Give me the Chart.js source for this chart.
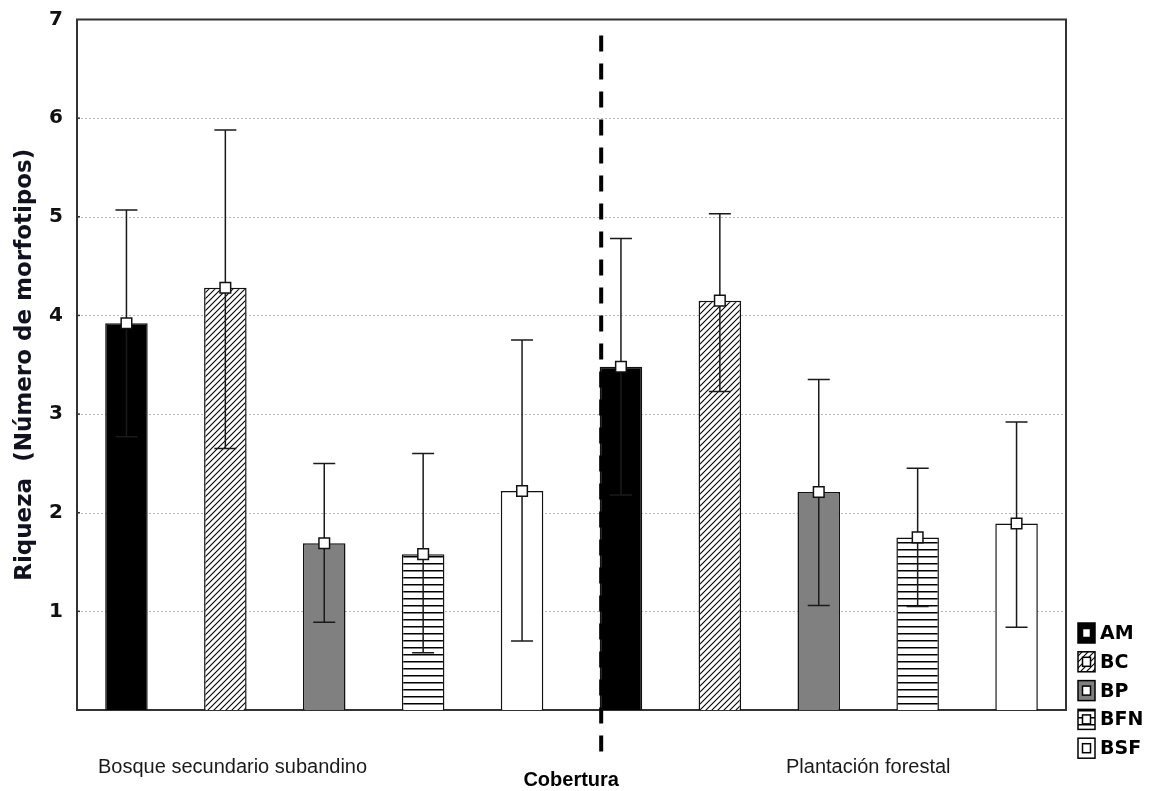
<!DOCTYPE html>
<html lang="es">
  <head>
    <meta charset="UTF-8" />
    <title>Riqueza por cobertura</title>
    <script src="https://cdn.jsdelivr.net/npm/chart.js"></script>
    <style>
      body {
        margin: 0;
        background: #fff;
      }
      .chart-box {
        width: 1157px;
        height: 791px;
      }
    </style>
  </head>
  <body>
    <div class="chart-box">
      <canvas id="riquezaChart"></canvas>
    </div>

    <script>
      // datos
      const categories = ["AM", "BC", "BP", "BFN", "BSF"];
      const groupNames = ["Bosque secundario subandino", "Plantación forestal"];
      const bosqueMean = [3.92, 4.28, 1.69, 1.58, 2.22];
      const bosqueLow = [2.77, 2.65, 0.89, 0.58, 0.7];
      const bosqueHigh = [5.07, 5.88, 2.5, 2.6, 3.75];
      const plantMean = [3.48, 4.15, 2.21, 1.75, 1.89];
      const plantLow = [2.18, 3.23, 1.06, 1.05, 0.84];
      const plantHigh = [4.78, 5.03, 3.35, 2.45, 2.92];
      const yTicks = [0, 1, 2, 3, 4, 5, 6, 7];

      const labels = [...categories, ...categories];
      const means = [...bosqueMean, ...plantMean];
      const lows = [...bosqueLow, ...plantLow];
      const highs = [...bosqueHigh, ...plantHigh];

      function diagPattern() {
        const c = document.createElement("canvas");
        c.width = 6;
        c.height = 6;
        const g = c.getContext("2d");
        g.fillStyle = "#fff";
        g.fillRect(0, 0, 6, 6);
        g.strokeStyle = "#000";
        g.lineWidth = 1.1;
        g.beginPath();
        g.moveTo(0, 6);
        g.lineTo(6, 0);
        g.moveTo(-1, 1);
        g.lineTo(1, -1);
        g.moveTo(5, 7);
        g.lineTo(7, 5);
        g.stroke();
        return g.createPattern(c, "repeat");
      }

      function stripePattern() {
        const c = document.createElement("canvas");
        c.width = 6;
        c.height = 7;
        const g = c.getContext("2d");
        g.fillStyle = "#fff";
        g.fillRect(0, 0, 6, 7);
        g.fillStyle = "#000";
        g.fillRect(0, 3, 6, 1.5);
        return g.createPattern(c, "repeat");
      }

      const fills = ["#000000", diagPattern(), "#808080", stripePattern(), "#ffffff"];
      const barFills = [...fills, ...fills];

      // rejilla punteada y marco
      const framePlugin = {
        id: "frame",
        beforeDatasetsDraw(chart) {
          const { ctx, chartArea: a, scales } = chart;
          ctx.save();
          ctx.strokeStyle = "#b5b5b5";
          ctx.lineWidth = 1;
          ctx.setLineDash([2, 2]);
          yTicks.forEach((v) => {
            if (v === 0 || v === 7) return;
            const y = Math.round(scales.y.getPixelForValue(v)) + 0.5;
            ctx.beginPath();
            ctx.moveTo(a.left, y);
            ctx.lineTo(a.right, y);
            ctx.stroke();
          });
          ctx.setLineDash([]);
          ctx.strokeStyle = "#333";
          ctx.lineWidth = 2;
          ctx.strokeRect(a.left, a.top, a.right - a.left, a.bottom - a.top);
          ctx.lineWidth = 1.5;
          yTicks.forEach((v) => {
            if (v === 0 || v === 7) return;
            const y = scales.y.getPixelForValue(v);
            ctx.beginPath();
            ctx.moveTo(a.left, y);
            ctx.lineTo(a.left + 3, y);
            ctx.stroke();
          });
          ctx.restore();
        },
      };

      // barras de error, antes de los marcadores
      const errorPlugin = {
        id: "errorBars",
        afterDatasetDraw(chart, args) {
          if (args.index !== 0) return;
          const { ctx, scales } = chart;
          ctx.save();
          ctx.strokeStyle = "#1a1a1a";
          ctx.lineWidth = 1.5;
          means.forEach((m, i) => {
            const x = scales.x.getPixelForValue(i);
            const yl = scales.y.getPixelForValue(lows[i]);
            const yh = scales.y.getPixelForValue(highs[i]);
            ctx.beginPath();
            ctx.moveTo(x, yl);
            ctx.lineTo(x, yh);
            ctx.moveTo(x - 11, yh);
            ctx.lineTo(x + 11, yh);
            ctx.moveTo(x - 11, yl);
            ctx.lineTo(x + 11, yl);
            ctx.stroke();
          });
          ctx.restore();
        },
      };

      const textPlugin = {
        id: "texts",
        afterDraw(chart) {
          const { ctx, chartArea: a, scales } = chart;
          ctx.save();

          // línea divisoria
          const bar = chart.getDatasetMeta(0).data[5];
          const xd = bar.x - bar.width / 2 + 1.5;
          ctx.strokeStyle = "#000";
          ctx.lineWidth = 4;
          ctx.setLineDash([16, 12]);
          ctx.beginPath();
          ctx.moveTo(xd, a.top + 16);
          ctx.lineTo(xd, a.bottom + 44);
          ctx.stroke();
          ctx.setLineDash([]);

          // título eje y
          ctx.fillStyle = "#111122";
          ctx.font = "bold 23px 'DejaVu Sans'";
          ctx.textAlign = "center";
          ctx.textBaseline = "middle";
          ctx.translate(25, (a.top + a.bottom) / 2);
          ctx.rotate(-Math.PI / 2);
          ctx.fillText("Riqueza  (Número de morfotipos)", 0, 0);
          ctx.setTransform(1, 0, 0, 1, 0, 0);

          // nombres de grupo
          ctx.fillStyle = "#1a1a1a";
          ctx.font = "20px 'Liberation Sans', Arial";
          ctx.textAlign = "left";
          ctx.fillText(groupNames[0], a.left + 21, a.bottom + 57);
          ctx.fillText(groupNames[1], a.left + 709, a.bottom + 57);

          ctx.font = "bold 20px 'Liberation Sans Narrow', 'Liberation Sans', Arial";
          ctx.textAlign = "center";
          ctx.fillStyle = "#000";
          ctx.fillText("Cobertura", xd - 30, a.bottom + 70);

          // leyenda
          ctx.textAlign = "left";
          ctx.font = "bold 19px 'DejaVu Sans'";
          categories.forEach((c, i) => {
            const yc = a.bottom - 77 + i * 28.8;
            ctx.fillStyle = fills[i];
            ctx.fillRect(1078, yc - 10, 17, 20);
            ctx.strokeStyle = "#000";
            ctx.lineWidth = 1.5;
            ctx.strokeRect(1078, yc - 10, 17, 20);
            ctx.fillStyle = "#fff";
            ctx.fillRect(1082.5, yc - 4.5, 8, 9);
            ctx.strokeRect(1082.5, yc - 4.5, 8, 9);
            ctx.fillStyle = "#000";
            ctx.fillText(c, 1100, yc + 1);
          });
          ctx.restore();
        },
      };

      new Chart(document.getElementById("riquezaChart"), {
        data: {
          labels: labels,
          datasets: [
            {
              type: "bar",
              data: means,
              backgroundColor: barFills,
              borderColor: "#111",
              borderWidth: 1.5,
              borderSkipped: "bottom",
              barPercentage: 0.43,
              categoryPercentage: 1,
              order: 2,
            },
            {
              type: "line",
              data: means,
              showLine: false,
              pointStyle: "rect",
              pointRadius: 7.5,
              pointBackgroundColor: "#fff",
              pointBorderColor: "#111",
              pointBorderWidth: 1.5,
              order: 1,
            },
          ],
        },
        options: {
          responsive: true,
          maintainAspectRatio: false,
          animation: false,
          layout: {
            padding: { top: 19.5, right: 91, bottom: 81, left: 0 },
          },
          plugins: {
            legend: { display: false },
            tooltip: { enabled: false },
          },
          scales: {
            x: {
              type: "category",
              display: false,
              offset: true,
            },
            y: {
              min: 0,
              max: 7,
              grid: { display: false, drawTicks: false },
              border: { display: false },
              ticks: {
                stepSize: 1,
                padding: 14,
                color: "#111",
                font: { family: "DejaVu Sans", weight: "bold", size: 20 },
                callback: (v) => (v === 0 ? "" : v),
              },
              afterFit(scale) {
                scale.width = 77;
                scale.paddingTop = 0;
                scale.paddingBottom = 0;
              },
            },
          },
        },
        plugins: [framePlugin, errorPlugin, textPlugin],
      });
    </script>
  </body>
</html>
